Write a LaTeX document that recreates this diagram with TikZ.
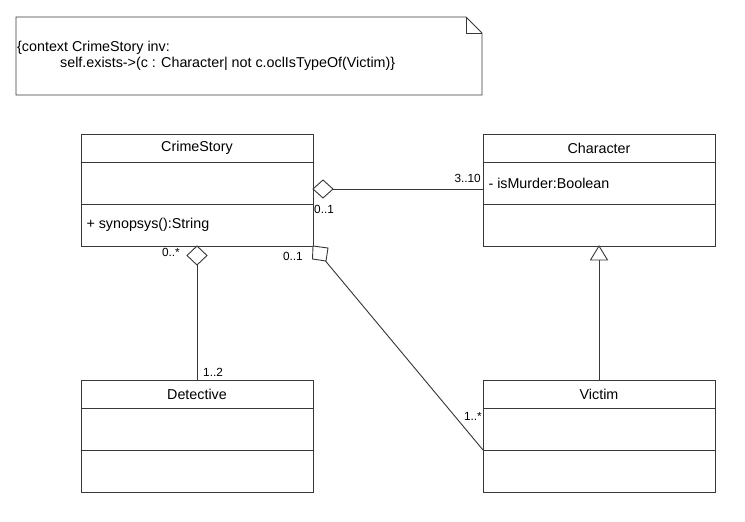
\documentclass[tikz,border=0pt]{standalone}
\usepackage{fontspec}
\setmainfont{Liberation Sans}
\begin{document}
\begin{tikzpicture}[x=1pt,y=-1pt,
  line/.style={draw=black!78, line width=0.9pt},
  cls/.style={font=\fontsize{14.3}{16.5}\selectfont},
  mult/.style={font=\fontsize{11.8}{13}\selectfont, inner sep=0pt}]
\useasboundingbox (0,0) rectangle (745,522);
% note
\draw[line] (16,17) -- (466,17) -- (482,33) -- (482,95) -- (16,95) -- cycle;
\draw[line] (466,17) -- (466,33) -- (482,33);
\node[cls, anchor=base west, inner sep=0pt] (note) at (17,51) {\{context CrimeStory inv:};
\node[cls, anchor=base west, inner sep=0pt] (note2) at (60,67) {self.exists->(c : Character| not c.oclIsTypeOf(Victim)\}};
% classes
\newcommand\umlclass[4]{%
  \draw[line] (#1,#2) rectangle (#1+#3,#2+112);
  \draw[line] (#1,#2+28) -- (#1+#3,#2+28);
  \draw[line] (#1,#2+70) -- (#1+#3,#2+70);
  \node[cls] (#4) at (#1+#3/2,#2+14) {#4};
}
\umlclass{81}{134}{232}{CrimeStory}
\umlclass{483}{134}{232}{Character}
\umlclass{81}{380}{232}{Detective}
\umlclass{483}{380}{232}{Victim}
\node[cls, anchor=west] (op) at (83,225) {+ synopsys():String};
\node[cls, anchor=west] (attr) at (485,183) {- isMurder:Boolean};
% CrimeStory - Character aggregation
\coordinate (a1) at (313,189);
\coordinate (a2) at (483,189);
\draw[line] (333,189) -- (a2);
\draw[line, fill=white] (a1) -- (323,180) -- (333,189) -- (323,198) -- cycle;
\node[mult, anchor=base east] (m1) at (481,182) {3..10};
\node[mult, anchor=base west] (m2) at (314,213) {0..1};
% CrimeStory - Detective
\coordinate (b1) at (197,246);
\draw[line] (197,265) -- (197,380);
\draw[line, fill=white] (b1) -- (207,255.5) -- (197,265) -- (187,255.5) -- cycle;
\node[mult, anchor=base east] (m3) at (180,256) {0..*};
\node[mult, anchor=base west] (m4) at (203,376) {1..2};
% CrimeStory - Victim
\coordinate (c1) at (313,246);
\coordinate (c2) at (483,450);
\draw[line] (c1) -- (c2);
\draw[line, fill=white] (c1) -- (328,248) -- (326,261) -- (312.5,259) -- cycle;
\node[mult, anchor=base east] (m5) at (303,260) {0..1};
\node[mult, anchor=base east] (m6) at (482,420) {1..*};
% generalization
\draw[line] (599,380) -- (599,260);
\draw[line, fill=white] (599,246) -- (607.5,260) -- (590.5,260) -- cycle;
\end{tikzpicture}
\end{document}
